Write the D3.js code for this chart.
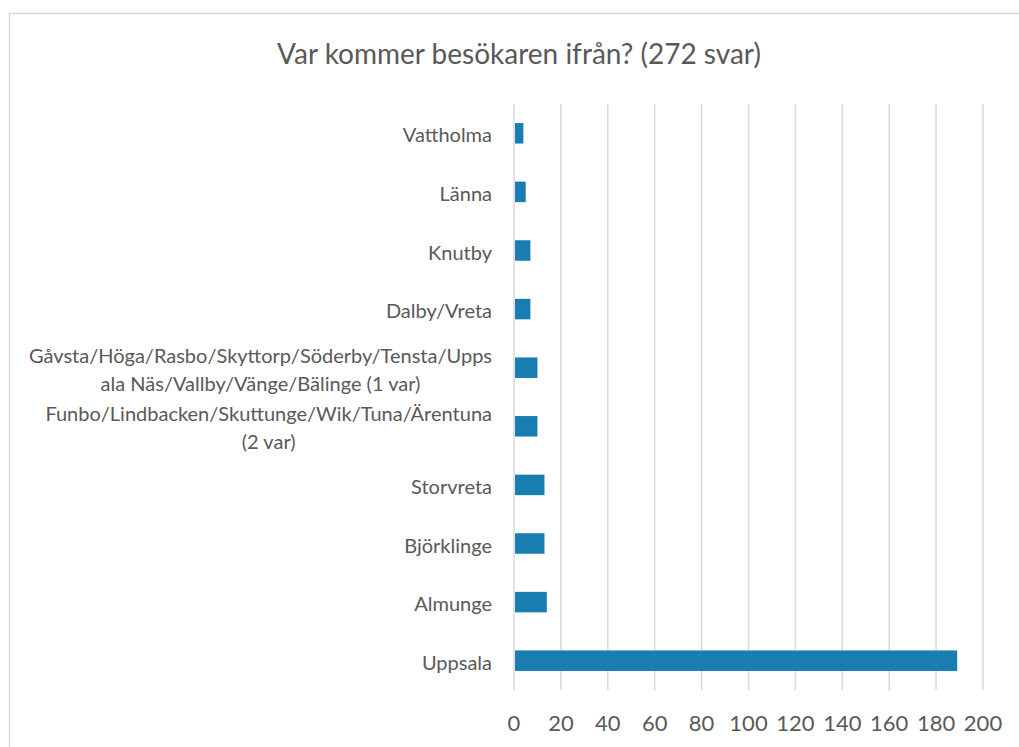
<!DOCTYPE html>
<html>
<head>
<meta charset="utf-8">
<script src="https://cdn.jsdelivr.net/npm/d3@7"></script>
<style>
  body { margin: 0; background: #fff; }
  text { font-family: Lato, "Open Sans", sans-serif; fill: #595959; }
</style>
</head>
<body>
<div id="chart"></div>
<script>
// Data (top to bottom as shown)
const categories = [
    "Vattholma",
    "Länna",
    "Knutby",
    "Dalby/Vreta",
    "Gåvsta/Höga/Rasbo/Skyttorp/Söderby/Tensta/Upps\nala Näs/Vallby/Vänge/Bälinge (1 var)",
    "Funbo/Lindbacken/Skuttunge/Wik/Tuna/Ärentuna\n(2 var)",
    "Storvreta",
    "Björklinge",
    "Almunge",
    "Uppsala"
];
const values = [4, 5, 7, 7, 10, 10, 13, 13, 14, 189];
const xTicks = [0, 20, 40, 60, 80, 100, 120, 140, 160, 180, 200];
const title = "Var kommer besökaren ifrån? (272 svar)";

const W = 1019, H = 747;
const plot = { left: 514, right: 983, top: 104, bottom: 690 };

const svg = d3.select("#chart").append("svg")
    .attr("width", W)
    .attr("height", H);

svg.append("rect")
    .attr("width", W).attr("height", H)
    .attr("fill", "#fff");

// chart border
svg.append("rect")
    .attr("x", 9.5).attr("y", 13.5)
    .attr("width", 1030).attr("height", 760)
    .attr("fill", "none")
    .attr("stroke", "#d9d9d9")
    .attr("stroke-width", 1.5);

// title
svg.append("text")
    .attr("x", 519).attr("y", 64)
    .attr("text-anchor", "middle")
    .style("font-size", "28px")
    .text(title);

const x = d3.scaleLinear()
    .domain([0, 200])
    .range([plot.left, plot.right]);

const y = d3.scaleBand()
    .domain(categories)
    .range([plot.top, plot.bottom])
    .paddingInner(0.65)
    .paddingOuter(0.325);

// gridlines
svg.append("g")
    .selectAll("line")
    .data(xTicks)
    .enter()
    .append("line")
    .attr("x1", d => x(d)).attr("x2", d => x(d))
    .attr("y1", plot.top).attr("y2", plot.bottom)
    .attr("stroke", "#d9d9d9")
    .attr("stroke-width", 1.5);

// bars
svg.append("g")
    .selectAll("rect")
    .data(categories)
    .enter()
    .append("rect")
    .attr("x", x(0) + 1)
    .attr("y", d => y(d))
    .attr("width", (d, i) => x(values[i]) - x(0) - 1)
    .attr("height", y.bandwidth())
    .attr("fill", "#1a7db1");

// x tick labels
svg.append("g")
    .selectAll("text")
    .data(xTicks)
    .enter()
    .append("text")
    .attr("x", d => x(d))
    .attr("y", 731)
    .attr("text-anchor", "middle")
    .style("font-size", "22px")
    .text(d => d);

// category labels: block right aligned, lines centered
const labelRight = 492;
const lineH = 28;
categories.forEach(c => {
    const lines = c.split("\n");
    const cy = y(c) + y.bandwidth() / 2;
    const g = svg.append("g");
    const texts = lines.map((l, i) => g.append("text")
        .attr("y", cy + (i - (lines.length - 1) / 2) * lineH + 2)
        .attr("dy", "0.35em")
        .style("font-size", "20px")
        .text(l));
    const maxW = d3.max(texts, t => t.node().getComputedTextLength());
    texts.forEach(t => t.attr("x", labelRight - maxW / 2).attr("text-anchor", "middle"));
});
</script>
</body>
</html>
